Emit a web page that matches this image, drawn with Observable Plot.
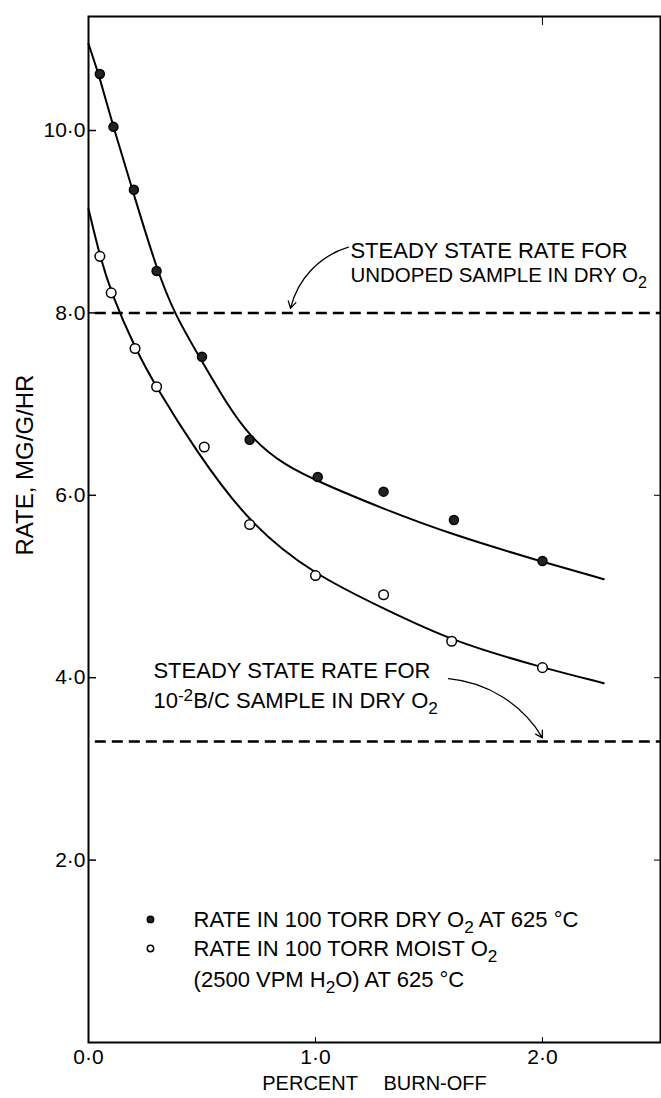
<!DOCTYPE html>
<html><head><meta charset="utf-8">
<script src="https://cdn.jsdelivr.net/npm/d3@7"></script>
<script src="https://cdn.jsdelivr.net/npm/@observablehq/plot@0.6"></script>
<style>body{margin:0;background:#fff}</style>
</head><body><div id="chart"></div>
<script>
// Axis ticks
const xTicks = [0, 1, 2];
const yTicks = [2, 4, 6, 8, 10];
const rightTicks = [2, 4, 6];
const topTicks = [2];

// Measured points: rate in 100 torr dry O2 (filled)
const dryX = [0.05, 0.11, 0.20, 0.30, 0.50, 0.71, 1.01, 1.30, 1.61, 2.00];
const dryY = [10.62, 10.04, 9.35, 8.46, 7.52, 6.61, 6.20, 6.04, 5.73, 5.28];
// Measured points: rate in 100 torr moist O2 (open)
const moistX = [0.05, 0.10, 0.205, 0.30, 0.51, 0.71, 1.00, 1.30, 1.60, 2.00];
const moistY = [8.62, 8.22, 7.61, 7.19, 6.53, 5.68, 5.12, 4.91, 4.40, 4.11];

// Fitted curves as drawn
const dryCurveX = [0, 0.05, 0.11, 0.20, 0.30, 0.38, 0.50, 0.60, 0.71, 0.86, 1.04, 1.30, 1.60, 2.00, 2.27];
const dryCurveY = [10.95, 10.58, 10.03, 9.30, 8.48, 7.98, 7.47, 7.04, 6.64, 6.33, 6.12, 5.85, 5.57, 5.27, 5.08];
const moistCurveX = [0, 0.05, 0.10, 0.205, 0.30, 0.47, 0.71, 1.00, 1.30, 1.60, 2.00, 2.27];
const moistCurveY = [9.14, 8.62, 8.22, 7.61, 7.18, 6.50, 5.68, 5.12, 4.76, 4.40, 4.11, 3.94];

// Steady state rates (dashed lines)
const steadyRates = [8.0, 3.3];
const steadyStart = [0.03, 0.03];
const steadyEnd = [2.52, 2.52];

// Annotation texts
const noteText = ["STEADY STATE RATE FOR", "UNDOPED SAMPLE IN DRY O₂",
                  "STEADY STATE RATE FOR", "10⁻²B/C SAMPLE IN DRY O₂"];
const noteX = [1.154, 1.154, 0.286, 0.286];
const noteY = [8.68, 8.41, 4.07, 3.74];
const noteSize = [22, 20.5, 22, 22];
// Annotation arrows
const arrowX1 = [1.145, 1.586];
const arrowY1 = [8.72, 3.99];
const arrowX2 = [0.89, 2.0];
const arrowY2 = [8.05, 3.34];
const arrowBend = [-30, 27];

// Legend
const legendText = ["RATE IN 100 TORR DRY O₂ AT 625 °C", "RATE IN 100 TORR MOIST O₂", "(2500 VPM H₂O) AT 625 °C"];
const legendTextX = [0.463, 0.463, 0.463];
const legendTextY = [1.34, 1.03, 0.69];
const legendDotX = [0.273, 0.273];
const legendDotY = [1.35, 1.03];
const legendFill = ["#222", "white"];

const fmt = d => d.toFixed(1).replace(".", "·");
const pts = (xs, ys) => xs.map((x, i) => ({x, y: ys[i]}));

const dry = pts(dryX, dryY);
const moist = pts(moistX, moistY);
const dryCurve = pts(dryCurveX, dryCurveY);
const moistCurve = pts(moistCurveX, moistCurveY);
const steady = steadyRates.map((y, i) => ({y, x1: steadyStart[i], x2: steadyEnd[i]}));
const notes = noteText.map((t, i) => ({t, x: noteX[i], y: noteY[i], s: noteSize[i]}));
const arrows = arrowX1.map((x1, i) => ({x1, y1: arrowY1[i], x2: arrowX2[i], y2: arrowY2[i], bend: arrowBend[i]}));
const legendLines = legendText.map((t, i) => ({t, x: legendTextX[i], y: legendTextY[i]}));
const legendDots = legendDotX.map((x, i) => ({x, y: legendDotY[i], fill: legendFill[i]}));

const chart = Plot.plot({
  width: 661,
  height: 1098,
  marginLeft: 88,
  marginRight: 1,
  marginTop: 16,
  marginBottom: 56,
  x: {domain: [0, 2.52]},
  y: {domain: [0, 11.25]},
  style: {fontFamily: "'Liberation Sans', Arial, sans-serif", background: "white", color: "black"},
  marks: [
    Plot.frame({stroke: "black", strokeWidth: 2}),
    Plot.axisY(yTicks, {anchor: "left", tickSize: -8, tickPadding: 11, fontSize: 21, tickFormat: fmt, label: null, strokeWidth: 1.5}),
    Plot.axisX(xTicks, {anchor: "bottom", tickSize: -5, tickPadding: 12, fontSize: 21, tickFormat: fmt, label: null}),
    Plot.axisY(rightTicks, {anchor: "right", tickSize: -7, tickFormat: () => "", label: null}),
    Plot.axisX(topTicks, {anchor: "top", tickSize: -8, tickFormat: () => "", label: null}),
    Plot.text(["RATE, MG/G/HR"], {frameAnchor: "left", rotate: -90, dx: -63, dy: 26, fontSize: 24}),
    Plot.text(["PERCENT\u2003 BURN-OFF"], {frameAnchor: "bottom", dy: 47, fontSize: 20}),
    Plot.ruleY(steady, {y: "y", x1: "x1", x2: "x2", stroke: "black", strokeWidth: 2.5, strokeDasharray: "11,6"}),
    Plot.line(dryCurve, {x: "x", y: "y", curve: "basis", stroke: "black", strokeWidth: 2}),
    Plot.line(moistCurve, {x: "x", y: "y", curve: "basis", stroke: "black", strokeWidth: 2}),
    Plot.dot(dry, {x: "x", y: "y", r: 4.5, fill: "#222", stroke: "black", strokeWidth: 1.5}),
    Plot.dot(moist, {x: "x", y: "y", r: 4.8, fill: "white", stroke: "black", strokeWidth: 1.5}),
    Plot.text(notes, {x: "x", y: "y", text: "t", textAnchor: "start", lineAnchor: "middle", fontSize: "s"}),
    ...arrows.map(a => Plot.arrow([a], {x1: "x1", y1: "y1", x2: "x2", y2: "y2", bend: a.bend, stroke: "black", strokeWidth: 1.3, headLength: 9})),
    Plot.dot(legendDots, {x: "x", y: "y", r: 3.2, fill: "fill", stroke: "black", strokeWidth: 1.5}),
    Plot.text(legendLines, {x: "x", y: "y", text: "t", textAnchor: "start", lineAnchor: "middle", fontSize: 22})
  ]
});

// Render subscripts / superscripts as shifted tspans (text stays real text)
d3.select(chart).selectAll("text").each(function() {
  const s = this.textContent;
  if (!/₂|⁻²/.test(s)) return;
  const parts = s.split(/(₂|⁻²)/);
  const sel = d3.select(this);
  sel.text(null);
  let shift = 0;
  for (const p of parts) {
    if (p === "") continue;
    if (p === "₂") {
      sel.append("tspan").attr("dy", 6 - shift).attr("font-size", "0.78em").text("2");
      shift = 6;
    } else if (p === "⁻²") {
      sel.append("tspan").attr("dy", -7 - shift).attr("font-size", "0.78em").text("-2");
      shift = -7;
    } else {
      sel.append("tspan").attr("dy", -shift).text(p);
      shift = 0;
    }
  }
});

document.getElementById("chart").append(chart);
</script>
</body></html>
